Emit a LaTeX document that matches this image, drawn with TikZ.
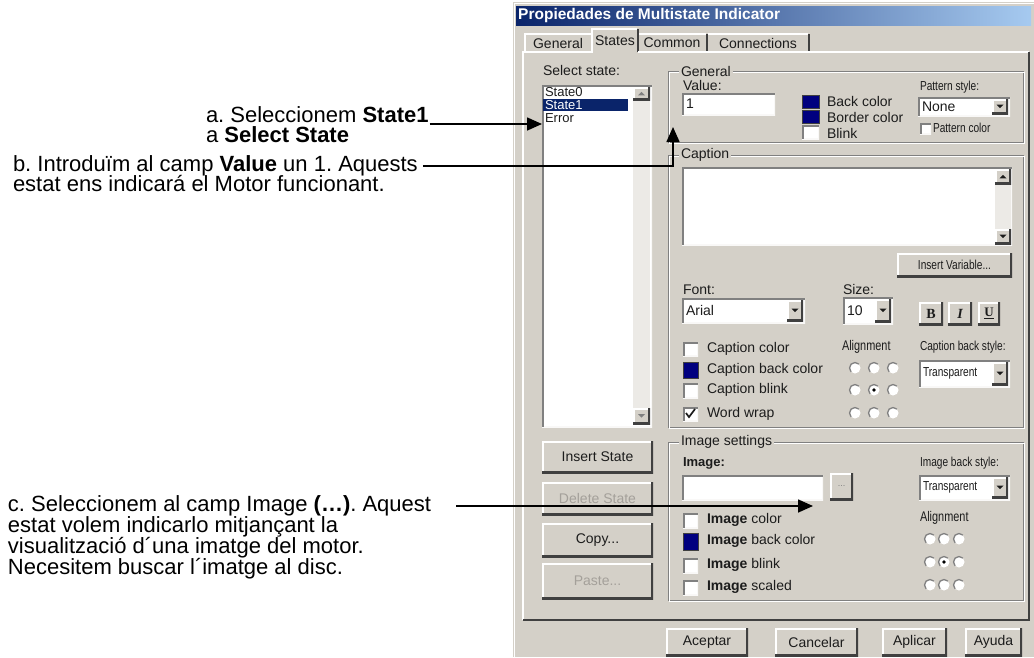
\documentclass[tikz,border=0pt]{standalone}
\usepackage{fontspec}
\setmainfont{Liberation Sans}
\newfontfamily\uin[FakeStretch=0.78]{Liberation Sans}
\newfontfamily\uiserif{Liberation Serif}
\usetikzlibrary{arrows.meta,calc}
\frenchspacing

\definecolor{dlg}{HTML}{D4D0C8}
\definecolor{navy}{HTML}{0A246A}
\definecolor{swatch}{HTML}{00007F}
\definecolor{edgedark}{HTML}{404040}
\definecolor{edgegray}{HTML}{808080}
\definecolor{track}{HTML}{ECEAE6}
\definecolor{uitext}{HTML}{1C1C1C}
\definecolor{distext}{HTML}{A4A09A}
\definecolor{titleL}{HTML}{0A246A}
\definecolor{titleM}{HTML}{2E4F92}
\definecolor{titleR}{HTML}{A6CAF0}

\tikzset{
  box/.style 2 args={minimum width=#1pt, minimum height=#2pt},
  ui/.style={font=\fontsize{14}{16}\selectfont, text=uitext, inner sep=0pt, outer sep=0pt},
  uinarrow/.style={font=\uin\fontsize{13}{15}\selectfont, text=uitext, inner sep=0pt, outer sep=0pt},
  lbl/.style={ui, anchor=west},
  nlbl/.style={uinarrow, anchor=west},
  btn/.style={ui, fill=dlg, anchor=north west, path picture={
      \draw[white, line width=3pt] (path picture bounding box.south west) |- (path picture bounding box.north east);
      \draw[edgedark, line width=4pt] (path picture bounding box.south west) -| (path picture bounding box.north east);}},
  field/.style={fill=white, inner sep=0pt, outer sep=0pt, anchor=north west, path picture={
      \draw[white!85!dlg, line width=2pt] (path picture bounding box.south west) -| (path picture bounding box.north east);
      \draw[edgegray, line width=3pt] (path picture bounding box.south west) |- (path picture bounding box.north east);}},
  swatchbox/.style={fill=swatch, draw=edgedark, line width=0.8pt, inner sep=0pt, outer sep=0pt, anchor=north west},
  note/.style={font=\fontsize{22}{22}\selectfont, anchor=base west, inner sep=0pt, outer sep=0pt},
  arr/.style={draw=black, line width=1.6pt, -{Triangle[length=15pt,width=13pt]}},
}

% small arrow glyphs for scroll and drop-down buttons
\newcommand\dtri[2][uitext]{\fill[#1] ([shift={(-3.5pt,1.8pt)}]#2.center) -- ++(7pt,0pt) -- ++(-3.5pt,-3.5pt) -- cycle;}
\newcommand\utri[2][uitext]{\fill[#1] ([shift={(-3.5pt,-1.8pt)}]#2.center) -- ++(7pt,0pt) -- ++(-3.5pt,3.5pt) -- cycle;}
% combo box: name, x, y, width, height, button height, text style, text
\newcommand\combo[8]{%
  \node[field, box={#4}{#5}] (#1) at (#2,#3) {};
  \node[btn, box={16}{#6}, anchor=north east] (#1-b) at ([shift={(-2pt,-2pt)}]#1.north east) {};
  \dtri{#1-b}
  \node[#7] (#1-t) at ([xshift=4pt]#1.west) {#8};}
% etched group frame
\newcommand\etched[4]{%
  \draw[edgegray, line width=1pt] (#1,#2) rectangle (#3,#4);
  \draw[white, line width=1pt] (#1+1,#2+1) rectangle (#3+1,#4+1);}
% radio button
\newcommand\radiobtn[2]{%
  \fill[white] (#1,#2) circle[radius=5.5pt];
  \draw[edgegray, line width=1.3pt] (#1,#2) ++(45:5.5pt) arc[start angle=45, end angle=225, radius=5.5pt];}

\begin{document}
\begin{tikzpicture}[x=1pt,y=-1pt]
\useasboundingbox (0,0) rectangle (1034,657);
\fill[white] (0,0) rectangle (1034,657);

% ---------- dialog window ----------
\fill[dlg] (513,2) rectangle (1034,657);
\draw[white, line width=1pt] (514,657) -- (514,3) -- (1034,3);
\shade[left color=titleL, middle color=titleM, right color=titleR] (516,6) rectangle (1031,25);
\node[anchor=west, inner sep=0pt, text=white, font=\bfseries\fontsize{15.5}{16}\selectfont] (title) at (518,15.5) {Propiedades de Multistate Indicator};

% tabs
\draw[white, line width=1.2pt] (525,52) -- (525,34) -- (591,34);
\draw[white, line width=1.2pt] (592,53) -- (592,29) -- (637,29);
\draw[edgedark, line width=1.5pt] (638,29) -- (638,52);
\draw[white, line width=1.2pt] (639,34) -- (706,34);
\draw[edgedark, line width=1.5pt] (707,34) -- (707,51);
\draw[white, line width=1.2pt] (708,34) -- (808,34);
\draw[edgedark, line width=1.5pt] (809,34) -- (809,51);
\node[ui] (tgen) at (558,43) {General};
\node[ui] (tsta) at (615,41) {States};
\node[ui] (tcom) at (672,43) {Common};
\node[ui] (tcon) at (758,43) {Connections};

% tab page
\draw[white, line width=1.2pt] (523,620) -- (523,52) -- (592,52);
\draw[white, line width=1.2pt] (638,52) -- (1029,52);
\draw[edgedark, line width=1.2pt] (1029,52) -- (1029,620) -- (523,620);

% ---------- state list ----------
\node[lbl] (lsel) at (543,70) {Select state:};
\node[field, box={110}{342}] (lst) at (542,85) {};
\fill[track] (633,87) rectangle (650,425);
\node[btn, box={17}{13}] (lup) at (633,87) {};
\utri[edgegray]{lup}
\node[btn, box={17}{16}] (ldn) at (633,408) {};
\dtri[edgegray]{ldn}
\fill[navy] (543,99) rectangle (628,111);
\node[lbl, font=\fontsize{13}{14}\selectfont] (s0) at (545,92) {State0};
\node[lbl, text=white, font=\fontsize{13}{14}\selectfont] (s1) at (545,105) {State1};
\node[lbl, font=\fontsize{13}{14}\selectfont] (s2) at (545,118) {Error};

\node[btn, box={111}{32}] (bins) at (542,441) {Insert State};
\node[btn, box={111}{33}, text=distext] (bdel) at (542,482) {Delete State};
\node[btn, box={111}{34}] (bcpy) at (542,523) {Copy...};
\node[btn, box={111}{36}, text=distext] (bpst) at (542,563) {Paste...};

% ---------- General group ----------
\etched{668}{71}{1023}{142}
\node[lbl, fill=dlg, inner xsep=2pt] (ggen) at (679,71) {General};
\node[lbl] (lval) at (683,85) {Value:};
\node[field, box={93}{22}] (val) at (682,93) {};
\node[lbl] (valt) at ([xshift=4pt]val.west) {1};
\node[swatchbox, box={17}{13}] (sw1) at (802,95) {};
\node[lbl] (lsw1) at (827,101) {Back color};
\node[swatchbox, box={17}{13}] (sw2) at (802,110) {};
\node[lbl] (lsw2) at (827,117) {Border color};
\node[field, box={17}{14}] (cblk) at (802,125) {};
\node[lbl] (lblk) at (827,133) {Blink};
\node[nlbl] (lpat) at (920,87) {Pattern style:};
\combo{cpat}{918}{97}{92}{19}{15}{lbl}{None}
\node[field, box={11}{11}] (cpc) at (920,123) {};
\node[nlbl] (lpc) at (933,128) {Pattern color};

% ---------- Caption group ----------
\etched{668}{155}{1023}{427}
\node[lbl, fill=dlg, inner xsep=2pt] (gcap) at (679,155) {Caption};
\node[field, box={330}{78}] (ctb) at (682,167) {};
\fill[track] (995,169) rectangle (1011,244);
\node[btn, box={16}{15}] (cup) at (995,169) {};
\utri{cup}
\node[btn, box={16}{15}] (cdn) at (995,229) {};
\dtri{cdn}
\node[btn, box={115}{24}, font=\uin\fontsize{13}{15}\selectfont] (binsv) at (897,253) {Insert Variable...};

\node[lbl] (lfont) at (683,290) {Font:};
\combo{cfont}{682}{298}{123}{25}{21}{lbl}{Arial}
\node[lbl] (lsize) at (843,289) {Size:};
\combo{csize}{843}{297}{50}{27}{23}{lbl}{10}
\node[btn, box={24}{23}, font=\uiserif\bfseries\fontsize{14}{14}\selectfont] (bbold) at (919,302) {B};
\node[btn, box={24}{23}, font=\uiserif\bfseries\itshape\fontsize{14}{14}\selectfont] (bital) at (948,302) {I};
\node[btn, box={22}{23}, font=\uiserif\bfseries\fontsize{13}{14}\selectfont] (bund) at (978,302) {\underline{U}};

\node[field, box={15}{14}] (cc1) at (683,342) {};
\node[lbl] (lcc1) at (707,349) {Caption color};
\node[swatchbox, box={15}{16}] (cc2) at (683,362) {};
\node[lbl] (lcc2) at (707,370) {Caption back color};
\node[field, box={15}{15}] (cc3) at (683,383) {};
\node[lbl] (lcc3) at (707,390) {Caption blink};
\node[field, box={15}{14}] (cc4) at (683,407) {};
\draw[uitext, line width=1.7pt] (686,413) -- (689,417) -- (695,409);
\node[lbl] (lcc4) at (707,414) {Word wrap};

\node[nlbl, font=\uin\fontsize{14}{15}\selectfont] (lalg1) at (842,347) {Alignment};
\foreach \cx in {855,874,893} \foreach \cy in {368,390,413} {\radiobtn{\cx}{\cy}}
\fill[black] (874,390) circle[radius=1.8pt];
\node[nlbl] (lcbs) at (920,347) {Caption back style:};
\combo{ccbs}{919}{360}{91}{27}{23}{nlbl}{Transparent}

% ---------- Image settings group ----------
\etched{668}{442}{1023}{600}
\node[lbl, fill=dlg, inner xsep=2pt] (gimg) at (679,442) {Image settings};
\node[lbl, font=\bfseries\fontsize{13}{15}\selectfont] (limg) at (683,463) {Image:};
\node[field, box={141}{25}] (itb) at (682,475) {};
\node[btn, box={23}{27}, font=\fontsize{9}{10}\selectfont, text=edgegray] (bdots) at (830,473) {...};
\node[nlbl] (libs) at (920,463) {Image back style:};
\combo{cibs}{919}{475}{91}{25}{21}{nlbl}{Transparent}
\node[nlbl, font=\uin\fontsize{14}{15}\selectfont] (lalg2) at (920,518) {Alignment};
\foreach \cx in {930,944,959} \foreach \cy in {539,562,585} {\radiobtn{\cx}{\cy}}
\fill[black] (944,562) circle[radius=1.8pt];

\node[field, box={15}{15}] (ic1) at (683,513) {};
\node[lbl] (lic1) at (707,520) {\textbf{Image} color};
\node[swatchbox, box={15}{17}] (ic2) at (683,533) {};
\node[lbl] (lic2) at (707,541) {\textbf{Image} back color};
\node[field, box={15}{15}] (ic3) at (683,558) {};
\node[lbl] (lic3) at (707,565) {\textbf{Image} blink};
\node[field, box={15}{15}] (ic4) at (683,580) {};
\node[lbl] (lic4) at (707,587) {\textbf{Image} scaled};

% ---------- dialog buttons ----------
\node[btn, box={82}{28}] (bok) at (666,628) {Aceptar};
\node[btn, box={83}{28}] (bcan) at (775,628) {Cancelar};
\node[btn, box={65}{28}] (bapl) at (882,628) {Aplicar};
\node[btn, box={57}{28}] (bhlp) at (965,628) {Ayuda};

% ---------- instructions ----------
\node[note] (ta1) at (206,122) {a. Seleccionem \textbf{State1}};
\node[note] (ta2) at (206,142) {a \textbf{Select State}};
\node[note] (tb1) at (13,171) {b. Introduïm al camp \textbf{Value} un 1. Aquests};
\node[note] (tb2) at (13,191) {estat ens indicará el Motor funcionant.};
\node[note] (tc1) at (8,511) {c. Seleccionem al camp Image \textbf{(…)}. Aquest};
\node[note] (tc2) at (8,532) {estat volem indicarlo mitjançant la};
\node[note] (tc3) at (8,553) {visualització d´una imatge del motor.};
\node[note] (tc4) at (8,574) {Necesitem buscar l´imatge al disc.};

% pointers
\coordinate (astart) at ([xshift=1pt,yshift=-2pt]ta1.base east);
\draw[arr] (astart) -- (astart -| lst.west);
\coordinate (btip) at (673,127);
\coordinate (bstart) at ([xshift=5pt,yshift=5pt]tb1.base east);
\draw[arr] (bstart) -- (bstart -| btip) -- (btip);
\coordinate (ctip) at (813,506);
\coordinate (cstart) at ([xshift=25pt]tc1.base east);
\draw[arr] (cstart |- ctip) -- (ctip);
\end{tikzpicture}
\end{document}
